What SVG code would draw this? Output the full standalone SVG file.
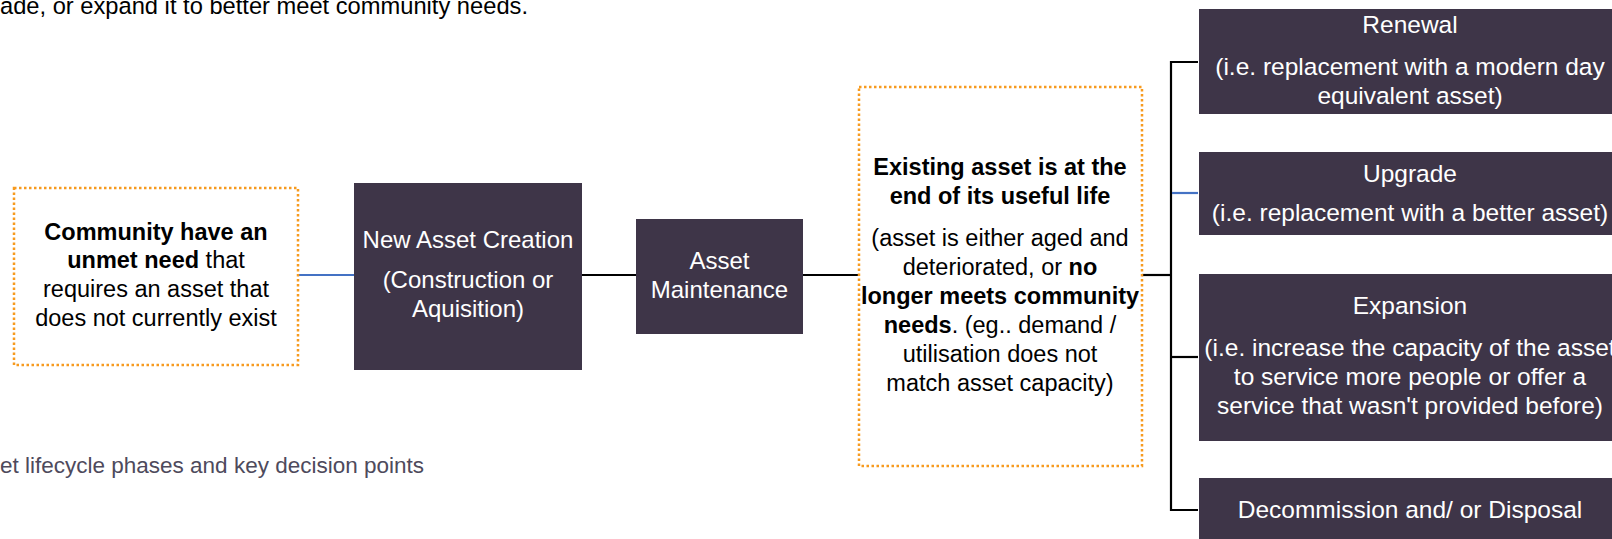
<svg xmlns="http://www.w3.org/2000/svg" width="1612" height="539" viewBox="0 0 1612 539">
<style>
text{font-family:"Liberation Sans","Open Sans",sans-serif;font-size:24px;text-anchor:middle}
.dk{fill:#3E3548}
.w{fill:#FFFFFF}
.b{fill:#000000}
.bold{font-weight:bold}
.dt{font-size:23.5px}
.rc{font-size:24.5px}
.dot{fill:#FFFFFF;stroke:#F79A1E;stroke-width:2.5;stroke-dasharray:2.5 2.5}
.ln{stroke:#000;stroke-width:2.2;fill:none}
.bl{stroke:#4472C4;stroke-width:2.2;fill:none}
.plain{text-anchor:start}
</style>
<rect width="1612" height="539" fill="#FFFFFF"/>
<text class="b plain" x="0" y="14" style="font-size:23.7px">ade, or expand it to better meet community needs.</text>
<text class="plain" x="0" y="473" style="font-size:22.5px;fill:#4E4A5C">et lifecycle phases and key decision points</text>
<g id="connectors">
<line class="bl" x1="298" y1="275" x2="354" y2="275"/>
<line class="ln" x1="582" y1="275" x2="636" y2="275"/>
<line class="ln" x1="803" y1="275" x2="859" y2="275"/>
<line class="ln" x1="1142" y1="275" x2="1171" y2="275"/>
<polyline class="ln" points="1198,62 1171,62 1171,510 1198,510"/>
<line class="bl" x1="1172" y1="193" x2="1198" y2="193"/>
<line class="ln" x1="1171" y1="357" x2="1198" y2="357"/>
</g>
<g id="need">
<rect class="dot" x="14" y="188" width="284" height="177"/>
<text class="b dt bold" x="156" y="240">Community have an</text>
<text class="b dt" x="156" y="268"><tspan class="bold">unmet need</tspan> that</text>
<text class="b dt" x="156" y="297">requires an asset that</text>
<text class="b dt" x="156" y="326">does not currently exist</text>
</g>
<g id="creation">
<rect class="dk" x="354" y="183" width="228" height="187"/>
<text class="w" x="468" y="248">New Asset Creation</text>
<text class="w" x="468" y="288">(Construction or</text>
<text class="w" x="468" y="317">Aquisition)</text>
</g>
<g id="maintenance">
<rect class="dk" x="636" y="219" width="167" height="115"/>
<text class="w" x="719.5" y="269">Asset</text>
<text class="w" x="719.5" y="298">Maintenance</text>
</g>
<g id="endoflife">
<rect class="dot" x="859" y="87" width="283" height="379"/>
<text class="b dt bold" x="1000" y="175">Existing asset is at the</text>
<text class="b dt bold" x="1000" y="204">end of its useful life</text>
<text class="b dt" x="1000" y="246">(asset is either aged and</text>
<text class="b dt" x="1000" y="275">deteriorated, or <tspan class="bold">no</tspan></text>
<text class="b dt bold" x="1000" y="304">longer meets community</text>
<text class="b dt" x="1000" y="333"><tspan class="bold">needs</tspan>. (eg.. demand /</text>
<text class="b dt" x="1000" y="362">utilisation does not</text>
<text class="b dt" x="1000" y="391">match asset capacity)</text>
</g>
<g id="renewal">
<rect class="dk" x="1199" y="9" width="460" height="105"/>
<text class="w rc" x="1410" y="33">Renewal</text>
<text class="w rc" x="1410" y="75">(i.e. replacement with a modern day</text>
<text class="w rc" x="1410" y="104">equivalent asset)</text>
</g>
<g id="upgrade">
<rect class="dk" x="1199" y="152" width="460" height="83"/>
<text class="w rc" x="1410" y="182">Upgrade</text>
<text class="w rc" x="1410" y="221">(i.e. replacement with a better asset)</text>
</g>
<g id="expansion">
<rect class="dk" x="1199" y="274" width="460" height="167"/>
<text class="w rc" x="1410" y="314">Expansion</text>
<text class="w rc" x="1410" y="356">(i.e. increase the capacity of the asset</text>
<text class="w rc" x="1410" y="385">to service more people or offer a</text>
<text class="w rc" x="1410" y="414">service that wasn't provided before)</text>
</g>
<g id="decommission">
<rect class="dk" x="1199" y="478" width="460" height="80"/>
<text class="w rc" x="1410" y="518">Decommission and/ or Disposal</text>
</g>
</svg>
